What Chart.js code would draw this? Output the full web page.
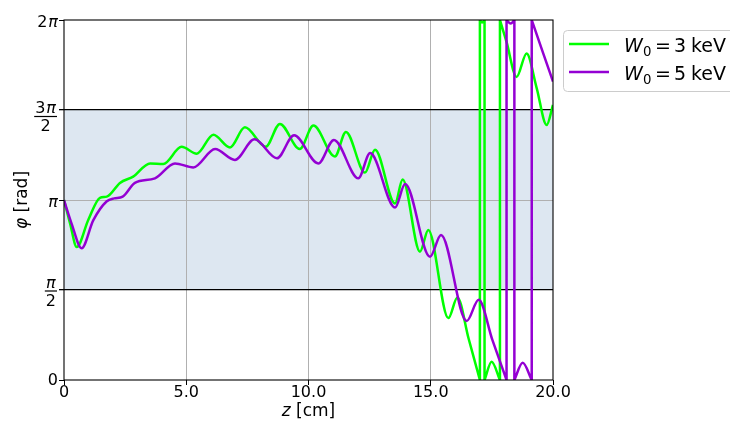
<!DOCTYPE html>
<html>
<head>
<meta charset="utf-8">
<script src="https://cdn.jsdelivr.net/npm/chart.js@4/dist/chart.umd.min.js"></script>
<style>
  html, body { margin: 0; padding: 0; background: #fff; }
  #wrap { width: 730px; height: 422px; }
</style>
</head>
<body>
<div id="wrap"><canvas id="c" width="730" height="422"></canvas></div>
<script>
const PI = Math.PI;
const TOP = 2 * PI;

// Phase φ(z), wrapped into [0, 2π]. A null splits the trace where it wraps
// around; the short two-point runs are the wrap jumps themselves.
const z3 = [0, 0.25, 0.52, 1.0, 1.47, 1.75, 2.29, 2.83, 3.52, 4.06, 4.81, 5.43, 6.11, 6.79, 7.40,
  8.25, 8.83, 9.64, 10.20, 11.08, 11.53, 12.31, 12.72, 13.54, 13.85, 14.56, 14.90, 15.72, 16.09,
  16.55, 17.01,
  17.01, 17.01, 17.01,
  17.01, 17.01, 17.10, 17.20,
  17.20, 17.20, 17.20,
  17.20, 17.20, 17.49, 17.83,
  17.83, 17.83, 17.83,
  17.83, 17.83, 18.10, 18.51, 18.92, 19.33, 19.74, 20.0];
const phi3 = [3.14, 2.73, 2.32, 2.80, 3.18, 3.20, 3.44, 3.55, 3.78, 3.77, 4.07, 3.95, 4.28, 4.06, 4.41,
  4.07, 4.47, 4.03, 4.44, 3.90, 4.33, 3.62, 4.02, 3.08, 3.50, 2.24, 2.62, 1.08, 1.44,
  0.72, 0,
  null, 0, TOP,
  null, TOP, 6.24, TOP,
  null, TOP, 0,
  null, 0, 0.32, 0,
  null, 0, TOP,
  null, TOP, 5.90, 5.29, 5.70, 5.10, 4.45, 4.80];

const z5 = [0, 0.31, 0.72, 1.20, 1.75, 2.05, 2.40, 2.90, 3.72, 4.54, 5.29, 6.18, 6.99, 7.79, 8.71,
  9.41, 10.40, 11.04, 12.04, 12.52, 13.54, 13.95, 14.97, 15.42, 16.47, 16.96, 17.52, 18.10,
  18.10, 18.10, 18.10,
  18.10, 18.10, 18.27, 18.42,
  18.42, 18.42, 18.42,
  18.42, 18.42, 18.76, 19.13,
  19.13, 19.13, 19.13,
  19.13, 19.13, 19.60, 20.0];
const phi5 = [3.14, 2.73, 2.30, 2.79, 3.12, 3.17, 3.20, 3.44, 3.52, 3.78, 3.71, 4.03, 3.84, 4.20, 3.87,
  4.27, 3.78, 4.19, 3.52, 3.96, 3.01, 3.42, 2.15, 2.53, 1.03, 1.40, 0.70, 0,
  null, 0, TOP,
  null, TOP, 6.22, TOP,
  null, TOP, 0,
  null, 0, 0.30, 0,
  null, 0, TOP,
  null, TOP, 5.70, 5.21];

const energies = ['3', '5'];            // W0 in keV
const seriesColors = ['#00ff00', '#9400d3'];
const xTicks = [0, 5, 10, 15, 20];
const xTickText = ['0', '5.0', '10.0', '15.0', '20.0'];
const yTicks = [0, PI / 2, PI, 3 * PI / 2, 2 * PI];
const yTickText = ['0', 'π/2', 'π', '3π/2', '2π'];
const band = [PI / 2, 3 * PI / 2];

const FONT = '"DejaVu Sans", "Liberation Sans", sans-serif';
function fontOf(r) { return (r.it ? 'italic ' : '') + (r.size || 16) + 'px ' + FONT; }

// Draw a row of text runs (mixed italic / upright / subscript); r.gap adds extra space.
function runsWidth(ctx, runs) {
  let w = 0;
  runs.forEach(r => { ctx.font = fontOf(r); r.w = ctx.measureText(r.t).width + (r.gap || 0); w += r.w; });
  return w;
}
function drawRuns(ctx, runs, x, y, align) {
  const w = runsWidth(ctx, runs);
  let cx = align === 'right' ? x - w : align === 'center' ? x - w / 2 : x;
  ctx.textAlign = 'left';
  ctx.textBaseline = 'alphabetic';
  runs.forEach(r => { ctx.font = fontOf(r); ctx.fillText(r.t, cx + (r.gap || 0), y + (r.dy || 0)); cx += r.w; });
  return w;
}
function mathRuns(s) {
  const out = [];
  Array.from(s).forEach((ch, i) => {
    const it = ch === 'π' || ch === 'φ';
    out.push({ t: ch, it, gap: (it && i > 0) ? 1 : 0 });
  });
  return out;
}

const decor = {
  id: 'decor',
  beforeDraw(chart) {
    const { ctx, chartArea: a, scales: { y } } = chart;
    const t = y.getPixelForValue(band[1]), b = y.getPixelForValue(band[0]);
    ctx.save();
    ctx.fillStyle = '#dde7f1';
    ctx.fillRect(a.left, t, a.right - a.left, b - t);
    ctx.restore();
  },
  afterDatasetsDraw(chart) {
    const { ctx, chartArea: a } = chart;
    ctx.save();
    ctx.strokeStyle = '#000';
    ctx.lineWidth = 1.1;
    ctx.strokeRect(a.left, a.top, a.right - a.left, a.bottom - a.top);
    ctx.restore();
  },
  afterDraw(chart) {
    const { ctx, chartArea: a, scales: { x, y } } = chart;
    ctx.save();
    ctx.fillStyle = '#000';

    // x tick labels
    xTicks.forEach((v, i) => {
      drawRuns(ctx, [{ t: xTickText[i] }], x.getPixelForValue(v), a.bottom + 17, 'center');
    });

    // y tick labels, fractions stacked over a bar
    const rx = a.left - 7;
    yTickText.forEach((s, i) => {
      const py = y.getPixelForValue(yTicks[i]);
      if (s.includes('/')) {
        const [n, d] = s.split('/');
        const nr = mathRuns(n), dr = mathRuns(d);
        const bw = Math.max(runsWidth(ctx, nr), runsWidth(ctx, dr)) + 2;
        const cx = rx - bw / 2;
        const barY = n.length > 1 ? py + 6.5 : py + 1;
        drawRuns(ctx, nr, cx, barY - 3.5, 'center');
        ctx.fillRect(rx - bw, barY - 0.6, bw, 1.2);
        drawRuns(ctx, dr, cx, barY + 14.5, 'center');
      } else {
        drawRuns(ctx, mathRuns(s), rx + 1, py + (s === '0' ? 5 : 6.5), 'right');
      }
    });

    // axis titles
    drawRuns(ctx, [{ t: 'z', it: true, size: 17 }, { t: ' [cm]', size: 17 }], (a.left + a.right) / 2, a.bottom + 35.5, 'center');
    ctx.save();
    ctx.translate(27, (a.top + a.bottom) / 2);
    ctx.rotate(-Math.PI / 2);
    drawRuns(ctx, [{ t: 'φ', it: true, size: 17 }, { t: ' [rad]', size: 17 }], 0, 0, 'center');
    ctx.restore();

    // legend
    const lx = a.right + 10, ly = a.top + 10, lw = 190, lh = 61;
    ctx.beginPath();
    ctx.roundRect(lx + 0.5, ly + 0.5, lw, lh, 4);
    ctx.fillStyle = 'rgba(255,255,255,0.85)';
    ctx.fill();
    ctx.strokeStyle = '#cccccc';
    ctx.lineWidth = 1;
    ctx.stroke();
    chart.data.datasets.forEach((ds, i) => {
      const rowY = ly + 14 + i * 28;
      ctx.strokeStyle = ds.borderColor;
      ctx.lineWidth = 2.5;
      ctx.beginPath();
      ctx.moveTo(lx + 6, rowY);
      ctx.lineTo(lx + 46, rowY);
      ctx.stroke();
      ctx.fillStyle = '#000';
      const tx = lx + 62, by = rowY + 7.5;
      drawRuns(ctx, [{ t: 'W', it: true, size: 19 }], tx - 1, by, 'left');
      drawRuns(ctx, [{ t: '0', size: 13.3 }], tx + 18, by + 4, 'left');
      drawRuns(ctx, [{ t: '=', size: 19 }], tx + 30, by, 'left');
      drawRuns(ctx, [{ t: energies[i], size: 19 }], tx + 49, by, 'left');
      drawRuns(ctx, [{ t: 'keV', size: 19 }], tx + 66, by, 'left');
    });
    ctx.restore();
  }
};

function points(zs, ps) {
  return zs.map((z, i) => ({ x: z, y: ps[i] }));
}

new Chart(document.getElementById('c'), {
  type: 'line',
  data: {
    datasets: [
      { label: 'W0 = ' + energies[0] + ' keV', data: points(z3, phi3), borderColor: seriesColors[0], order: 1 },
      { label: 'W0 = ' + energies[1] + ' keV', data: points(z5, phi5), borderColor: seriesColors[1], order: 0 }
    ]
  },
  options: {
    responsive: false,
    animation: false,
    devicePixelRatio: 1,
    layout: { padding: { top: 20, right: 177, left: 0, bottom: 0 } },
    datasets: {
      line: {
        borderWidth: 2.5,
        pointRadius: 0,
        cubicInterpolationMode: 'monotone',
        spanGaps: false,
        clip: 0,
        fill: false,
        borderJoinStyle: 'round',
        borderCapStyle: 'butt'
      }
    },
    plugins: { legend: { display: false }, tooltip: { enabled: false } },
    scales: {
      x: {
        type: 'linear', min: 0, max: 20,
        afterBuildTicks(s) { s.ticks = xTicks.map(v => ({ value: v })); },
        afterFit(s) { s.height = 42; },
        ticks: { display: false },
        border: { display: false },
        grid: {
          color: c => (c.tick && (c.tick.value === 0 || c.tick.value === 20)) ? 'rgba(0,0,0,0)' : '#b0b0b0',
          lineWidth: 1,
          tickColor: '#000',
          tickLength: 5,
          drawTicks: true
        }
      },
      y: {
        type: 'linear', min: 0, max: TOP,
        afterBuildTicks(s) { s.ticks = yTicks.map(v => ({ value: v })); },
        afterFit(s) { s.width = 64; },
        ticks: { display: false },
        border: { display: false },
        grid: {
          color: c => {
            const v = c.tick ? c.tick.value : 0;
            if (Math.abs(v - PI) < 1e-9) return '#b0b0b0';
            if (Math.abs(v - band[0]) < 1e-9 || Math.abs(v - band[1]) < 1e-9) return '#000';
            return 'rgba(0,0,0,0)';
          },
          lineWidth: c => {
            const v = c.tick ? c.tick.value : 0;
            return (Math.abs(v - band[0]) < 1e-9 || Math.abs(v - band[1]) < 1e-9) ? 1.3 : 1;
          },
          tickColor: '#000',
          tickLength: 5,
          drawTicks: true
        }
      }
    }
  },
  plugins: [decor]
});
</script>
</body>
</html>
